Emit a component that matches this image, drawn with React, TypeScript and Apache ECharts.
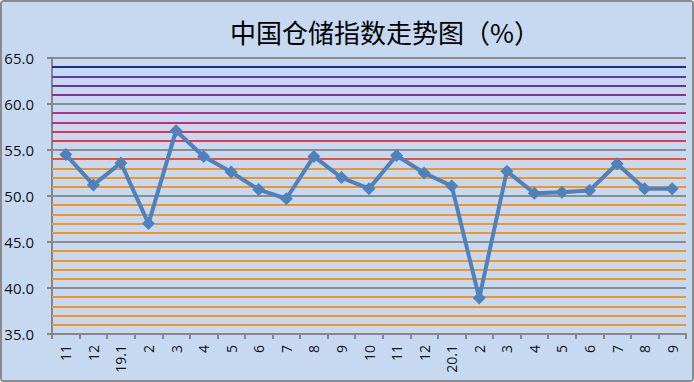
import React, { useEffect, useRef } from "react";
import * as echarts from "echarts";

const categories = ["11", "12", "19.1", "2", "3", "4", "5", "6", "7", "8", "9", "10", "11", "12", "20.1", "2", "3", "4", "5", "6", "7", "8", "9"];
const values = [54.5, 51.2, 53.6, 47.0, 57.1, 54.3, 52.6, 50.7, 49.7, 54.3, 52.0, 50.8, 54.4, 52.5, 51.1, 38.9, 52.7, 50.3, 50.4, 50.6, 53.5, 50.8, 50.8];
const yTicks = [35, 40, 45, 50, 55, 60, 65];
const minorLevels = [36, 37, 38, 39, 41, 42, 43, 44, 46, 47, 48, 49, 51, 52, 53, 54, 56, 57, 58, 59, 61, 62, 63, 64];
const minorColors = [
  "#F7941E", "#F7941E", "#F7941E", "#F7941E", "#F7941E", "#F7941E", "#F7941E", "#F7941E",
  "#F7941E", "#F7941E", "#F7941E", "#F7941E", "#F7941E", "#F7941E", "#F7941E", "#F0502A",
  "#E8384A", "#E0305A", "#D02870", "#B8308A", "#8A2E98", "#7030A0", "#5A3CA8", "#1F2A8C",
];
const title = "中国仓储指数走势图（%）";

export default function App() {
  const ref = useRef<HTMLDivElement>(null);
  useEffect(() => {
    if (!ref.current) return;
    const chart = echarts.init(ref.current, undefined, { renderer: "svg" });
    const font = "'Open Sans', 'DejaVu Sans', sans-serif";
    chart.setOption({
      animation: false,
      backgroundColor: "#C6D9F1",
      title: {
        text: title,
        left: 380,
        top: 13,
        textAlign: "center",
        textStyle: { fontFamily: "'Noto Sans CJK SC', sans-serif", fontSize: 26, fontWeight: "normal", color: "#000" },
      },
      grid: { left: 52, right: 8, top: 58, bottom: 48 },
      xAxis: {
        type: "category",
        data: categories,
        boundaryGap: true,
        axisLine: { lineStyle: { color: "#868686", width: 2 } },
        axisTick: { show: true, length: 5, lineStyle: { color: "#868686", width: 2 } },
        axisLabel: { rotate: 90, color: "#111", fontFamily: font, fontSize: 14, margin: 11, interval: 0 },
        splitLine: { show: false },
      },
      yAxis: {
        type: "value",
        min: yTicks[0],
        max: yTicks[yTicks.length - 1],
        interval: 5,
        axisLine: { show: true, lineStyle: { color: "#868686", width: 2 } },
        axisTick: { show: true, length: 5, lineStyle: { color: "#868686", width: 2 } },
        axisLabel: { color: "#111", fontFamily: font, fontSize: 15, margin: 18, formatter: (v: number) => v.toFixed(1) },
        splitLine: { show: true, lineStyle: { color: "#8C8C8C", width: 2 } },
      },
      series: [
        {
          type: "line",
          data: [],
          z: 1,
          silent: true,
          markLine: {
            silent: true,
            symbol: "none",
            label: { show: false },
            data: minorLevels.map((lv, i) => ({ yAxis: lv, lineStyle: { color: minorColors[i], width: 2, type: "solid" } })),
          },
        },
        {
          type: "line",
          data: values,
          z: 5,
          symbol: "diamond",
          symbolSize: 13,
          lineStyle: { color: "#4F81BD", width: 4 },
          itemStyle: { color: "#4F81BD" },
        },
      ],
    });
    return () => chart.dispose();
  }, []);
  return (
    <div
      style={{
        position: "absolute",
        left: 0,
        top: 0,
        width: 694,
        height: 382,
        boxSizing: "border-box",
        border: "2px solid #8A8A8A",
        borderRadius: 4,
        overflow: "hidden",
      }}
    >
      <div ref={ref} style={{ position: "absolute", left: -2, top: -2, width: 694, height: 382 }} />
    </div>
  );
}
